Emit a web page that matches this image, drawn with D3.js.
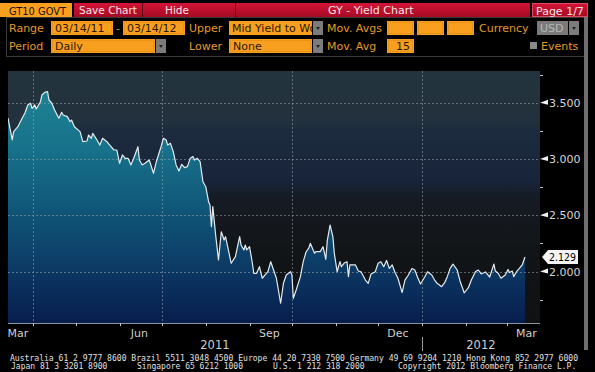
<!DOCTYPE html>
<html>
<head>
<meta charset="utf-8">
<script src="https://cdn.jsdelivr.net/npm/d3@7"></script>
<style>
body { margin: 0; background: #000; }
svg { display: block; font-family: "DejaVu Sans", sans-serif; }
</style>
</head>
<body>
<svg width="595" height="372"></svg>
<script>
// GT10 GOVT - mid yield, daily, 03/14/11 - 03/14/12
var dates = [
"2011-03-14","2011-03-17","2011-03-18","2011-03-21","2011-03-24","2011-03-26","2011-03-28","2011-03-30","2011-03-31",
"2011-04-02","2011-04-03","2011-04-06","2011-04-07","2011-04-09","2011-04-11","2011-04-12","2011-04-14","2011-04-16",
"2011-04-19","2011-04-21","2011-04-22","2011-04-25","2011-04-27","2011-04-28","2011-04-30",
"2011-05-04","2011-05-06","2011-05-09","2011-05-10","2011-05-12","2011-05-13","2011-05-16","2011-05-18","2011-05-20",
"2011-05-23","2011-05-25","2011-05-28","2011-05-30",
"2011-06-01","2011-06-03","2011-06-05","2011-06-07","2011-06-09","2011-06-11","2011-06-14","2011-06-15","2011-06-17",
"2011-06-19","2011-06-22","2011-06-25","2011-06-27","2011-06-30",
"2011-07-02","2011-07-04","2011-07-05","2011-07-07","2011-07-09","2011-07-11","2011-07-13","2011-07-15","2011-07-17",
"2011-07-19","2011-07-21","2011-07-23","2011-07-24","2011-07-26","2011-07-28","2011-07-30",
"2011-08-01","2011-08-03","2011-08-04","2011-08-05","2011-08-06","2011-08-08","2011-08-10","2011-08-12","2011-08-14",
"2011-08-15","2011-08-17","2011-08-19","2011-08-22","2011-08-23","2011-08-25","2011-08-26","2011-08-28","2011-08-29","2011-08-30",
"2011-09-01","2011-09-03","2011-09-04","2011-09-06","2011-09-08","2011-09-10","2011-09-12","2011-09-14","2011-09-16",
"2011-09-18","2011-09-20","2011-09-23","2011-09-25","2011-09-27","2011-09-30",
"2011-10-01","2011-10-02","2011-10-04","2011-10-07","2011-10-09","2011-10-11","2011-10-13","2011-10-14","2011-10-17",
"2011-10-18","2011-10-21","2011-10-23","2011-10-25","2011-10-26","2011-10-28","2011-10-30","2011-10-31",
"2011-11-02","2011-11-04","2011-11-05","2011-11-07","2011-11-09","2011-11-10","2011-11-11","2011-11-15","2011-11-17",
"2011-11-19","2011-11-22","2011-11-24","2011-11-26","2011-11-29",
"2011-12-01","2011-12-03","2011-12-05","2011-12-07","2011-12-09","2011-12-11","2011-12-13","2011-12-15","2011-12-18",
"2011-12-20","2011-12-22","2011-12-25","2011-12-27","2011-12-29","2011-12-31",
"2012-01-03","2012-01-05","2012-01-08","2012-01-10","2012-01-12","2012-01-15","2012-01-17","2012-01-19","2012-01-21",
"2012-01-23","2012-01-26","2012-01-28","2012-01-31",
"2012-02-03","2012-02-05","2012-02-08","2012-02-10","2012-02-12","2012-02-15","2012-02-18","2012-02-21","2012-02-22",
"2012-02-24","2012-02-26","2012-02-29",
"2012-03-02","2012-03-03","2012-03-05","2012-03-06","2012-03-08","2012-03-10","2012-03-12","2012-03-14"
];
var yields = [
3.364,3.169,3.243,3.287,3.362,3.409,3.480,3.495,3.450,
3.480,3.444,3.509,3.568,3.592,3.598,3.524,3.495,3.435,
3.362,3.415,3.391,3.376,3.331,3.346,3.287,
3.243,3.154,3.160,3.213,3.184,3.228,3.169,3.124,3.184,
3.154,3.124,3.080,3.080,
2.962,3.036,3.006,3.006,2.947,3.006,3.109,2.991,2.947,
2.962,2.991,2.873,2.976,3.095,
3.184,3.169,3.124,3.139,3.065,2.947,2.893,2.953,2.923,
2.932,3.006,3.021,2.991,3.006,2.976,2.798,
2.754,2.621,2.592,2.399,2.577,2.325,2.103,2.354,2.281,
2.310,2.192,2.074,2.133,2.192,2.310,2.236,2.192,2.236,2.192,
2.221,2.074,1.985,1.985,2.044,1.941,1.970,1.999,2.088,
2.014,1.941,1.719,1.896,1.970,1.999,
1.970,1.763,1.837,1.955,2.088,2.174,2.210,2.251,2.163,
2.177,2.177,2.221,2.109,2.272,2.414,2.310,2.163,
1.999,2.088,2.044,2.076,2.088,1.955,2.059,2.059,2.005,
1.997,1.925,1.896,1.979,1.999,
2.074,2.088,2.044,2.099,2.028,2.059,1.992,1.943,1.814,
1.925,1.961,2.028,2.014,1.948,1.890,
1.952,1.999,1.970,1.925,1.894,1.866,1.899,1.955,2.029,
2.067,2.014,1.917,1.810,
1.859,1.925,2.001,2.014,1.979,1.997,1.952,2.067,2.005,
1.985,1.941,1.970,
2.019,1.992,2.005,1.955,1.999,2.029,2.059,2.129
];
var yTicks = [2.0, 2.5, 3.0, 3.5];
var yMinorTicks = [1.75, 2.25, 2.75, 3.25, 3.75];
var lastLabel = "2.129";
var years = ["2011", "2012"];
var footer1 = "Australia 61 2 9777 8600 Brazil 5511 3048 4500 Europe 44 20 7330 7500 Germany 49 69 9204 1210 Hong Kong 852 2977 6000";
var footer2 = ["Japan 81 3 3201 8900", "Singapore 65 6212 1000", "U.S. 1 212 318 2000", "Copyright 2012 Bloomberg Finance L.P."];

var parse = d3.timeParse("%Y-%m-%d");
var data = dates.map(function(d, i) { return {date: parse(d), value: yields[i]}; });

var plotLeft = 8, plotRight = 540, plotTop = 71, plotBottom = 323;
var orange = "#f99f1f", labelOrange = "#e39a2a";

var svg = d3.select("svg");
var defs = svg.append("defs");

// ---------- header bar ----------
var redGrad = defs.append("linearGradient").attr("id", "redGrad").attr("x1", 0).attr("y1", 0).attr("x2", 0).attr("y2", 1);
redGrad.append("stop").attr("offset", "0").attr("stop-color", "#d41436");
redGrad.append("stop").attr("offset", "1").attr("stop-color", "#a50a24");

svg.append("rect").attr("x", 0).attr("y", 3).attr("width", 72).attr("height", 14).style("fill", orange);
svg.append("text").attr("x", 9).attr("y", 14.5).attr("textLength", 57).attr("lengthAdjust", "spacingAndGlyphs")
	.style("font-size", "11px").style("fill", "#1a1000").text("GT10 GOVT");

svg.append("rect").attr("x", 74).attr("y", 3).attr("width", 456).attr("height", 14).style("fill", "url(#redGrad)");
[142, 235].forEach(function(sx) {
	svg.append("line").attr("x1", sx + 0.5).attr("x2", sx + 0.5).attr("y1", 3).attr("y2", 17).style("stroke", "#5a0010");
});
svg.append("text").attr("x", 108).attr("y", 14).style("text-anchor", "middle").style("font-size", "10.5px").style("fill", "#f4e4e6").text("Save Chart");
svg.append("text").attr("x", 177).attr("y", 14).style("text-anchor", "middle").style("font-size", "10.5px").style("fill", "#f4e4e6").text("Hide");
svg.append("text").attr("x", 328).attr("y", 14).style("font-size", "11px").style("fill", "#f4e4e6").text("GY - Yield Chart");

svg.append("rect").attr("x", 532.5).attr("y", 3.5).attr("width", 55).attr("height", 13).style("fill", "url(#redGrad)").style("stroke", "#e04a60");
svg.append("text").attr("x", 536).attr("y", 14.5).style("font-size", "11px").style("fill", "#f4e4e6").text("Page 1/7");

// ---------- settings panel ----------
svg.append("rect").attr("x", 6.5).attr("y", 17.5).attr("width", 578).attr("height", 39)
	.style("fill", "none").style("stroke", "#3a3a3a");

function label(x, y, t) {
	svg.append("text").attr("x", x).attr("y", y).style("font-size", "11px").style("fill", labelOrange).text(t);
}
function field(x, y, w, t, anchor) {
	svg.append("rect").attr("x", x).attr("y", y).attr("width", w).attr("height", 14).style("fill", orange);
	svg.append("rect").attr("x", x + 1.5).attr("y", y + 1.5).attr("width", w - 3).attr("height", 11)
		.style("fill", "none").style("stroke", "#d98612").style("stroke-dasharray", "1,1");
	if (t) {
		svg.append("text").attr("x", anchor == "end" ? x + w - 4 : x + 4).attr("y", y + 11)
			.style("text-anchor", anchor || "start").style("font-size", "11px").style("fill", "#2a1800").text(t);
	}
}
function dropdown(x, y) {
	svg.append("rect").attr("x", x).attr("y", y).attr("width", 10).attr("height", 14).style("fill", "#7c7c7c");
	svg.append("path").attr("d", "M" + (x + 3) + "," + (y + 6) + " h4 l-2,3 z").style("fill", "#222");
}

label(9, 32, "Range");
field(51, 21, 62, "03/14/11");
label(116, 32, "-");
field(123, 21, 62, "03/14/12");
label(189, 32, "Upper");
defs.append("clipPath").attr("id", "midClip").append("rect").attr("x", 229).attr("y", 21).attr("width", 83).attr("height", 14);
svg.append("g").attr("clip-path", "url(#midClip)").call(function(g) {
	g.append("rect").attr("x", 229).attr("y", 21).attr("width", 83).attr("height", 14).style("fill", orange);
	g.append("text").attr("x", 232).attr("y", 32).style("font-size", "11px").style("fill", "#2a1800").text("Mid Yield to Worst");
});
dropdown(313, 21);
label(327, 32, "Mov. Avgs");
field(387, 21, 27, "");
field(417, 21, 27, "");
field(447, 21, 27, "");
label(479, 32, "Currency");
svg.append("rect").attr("x", 537).attr("y", 21).attr("width", 31).attr("height", 14).style("fill", "#7a7a7a");
svg.append("text").attr("x", 540).attr("y", 32).style("font-size", "11px").style("fill", "#b8b8b8").text("USD");
dropdown(569, 21);

label(9, 50, "Period");
field(51, 39, 104, "Daily");
dropdown(156, 39);
label(189, 50, "Lower");
field(229, 39, 83, "None");
dropdown(313, 39);
label(327, 50, "Mov. Avg");
field(387, 39, 27, "15", "end");
svg.append("rect").attr("x", 530).attr("y", 42).attr("width", 7).attr("height", 7).style("fill", "#8a8a8a");
label(541, 50, "Events");

// scroll bar on the right
svg.append("rect").attr("x", 584).attr("y", 17).attr("width", 4).attr("height", 333).style("fill", "#6e6e6e");

// ---------- chart ----------
var x = d3.scaleTime().domain([parse("2011-03-14"), parse("2012-03-14")]).range([8, 525]);
var y = d3.scaleLinear().domain([2.0, 3.5]).range([271.6, 102.7]);

var bgGrad = defs.append("linearGradient").attr("id", "bgGrad").attr("gradientUnits", "userSpaceOnUse")
	.attr("x1", 0).attr("y1", plotTop).attr("x2", 0).attr("y2", plotBottom);
[[0, "#24343e"], [0.2, "#22313d"], [0.24, "#1c2b3d"], [0.44, "#18243a"], [0.5, "#161b24"], [0.7, "#121518"], [1, "#0f1113"]]
	.forEach(function(s) { bgGrad.append("stop").attr("offset", s[0]).attr("stop-color", s[1]); });

var fillGrad = defs.append("linearGradient").attr("id", "fillGrad").attr("gradientUnits", "userSpaceOnUse")
	.attr("x1", 0).attr("y1", 85).attr("x2", 0).attr("y2", plotBottom);
[[0, "#1f8494"], [0.27, "#17718a"], [0.48, "#115b7c"], [0.69, "#0d436c"], [0.86, "#0a2e5c"], [1, "#071d4c"]]
	.forEach(function(s) { fillGrad.append("stop").attr("offset", s[0]).attr("stop-color", s[1]); });

defs.append("clipPath").attr("id", "plotClip").append("rect")
	.attr("x", plotLeft).attr("y", plotTop).attr("width", plotRight - plotLeft).attr("height", plotBottom - plotTop);

svg.append("rect").attr("x", plotLeft).attr("y", plotTop).attr("width", plotRight - plotLeft).attr("height", plotBottom - plotTop)
	.style("fill", "url(#bgGrad)");

var plot = svg.append("g").attr("clip-path", "url(#plotClip)");

plot.append("path").datum(data)
	.attr("d", d3.area().x(function(d) { return x(d.date); }).y0(plotBottom).y1(function(d) { return y(d.value); }))
	.style("fill", "url(#fillGrad)");

// dotted grid
var quarters = d3.timeMonth.every(3).range(parse("2011-03-14"), parse("2012-03-25"));
plot.selectAll(".vgrid").data(quarters).enter().append("line")
	.attr("class", "vgrid")
	.attr("x1", function(d) { return Math.round(x(d)) + 0.5; })
	.attr("x2", function(d) { return Math.round(x(d)) + 0.5; })
	.attr("y1", plotTop).attr("y2", plotBottom)
	.style("stroke", "#9aa4ac").style("stroke-opacity", 0.55).style("stroke-dasharray", "2,2");
plot.selectAll(".hgrid").data(yTicks).enter().append("line")
	.attr("class", "hgrid")
	.attr("x1", plotLeft).attr("x2", plotRight)
	.attr("y1", function(d) { return Math.round(y(d)) + 0.5; })
	.attr("y2", function(d) { return Math.round(y(d)) + 0.5; })
	.style("stroke", "#9aa4ac").style("stroke-opacity", 0.55).style("stroke-dasharray", "2,2");

plot.append("path").datum(data)
	.attr("d", d3.line().x(function(d) { return x(d.date); }).y(function(d) { return y(d.value); }))
	.style("fill", "none").style("stroke", "#e4eaee").style("stroke-width", 1.2).style("stroke-linejoin", "round");

// right axis
svg.selectAll(".minorTick").data(yMinorTicks).enter().append("line")
	.attr("x1", plotRight).attr("x2", plotRight + 3)
	.attr("y1", function(d) { return Math.round(y(d)) + 0.5; })
	.attr("y2", function(d) { return Math.round(y(d)) + 0.5; })
	.style("stroke", "#c8c8c8");
svg.selectAll(".flag").data(yTicks).enter().append("path")
	.attr("d", function(d) { var yy = y(d); return "M" + plotRight + "," + yy + " L548," + (yy - 3) + " L548," + (yy + 2) + " Z"; })
	.style("fill", "#f0f0f0");
svg.selectAll(".yLabel").data(yTicks).enter().append("text")
	.attr("x", 549).attr("y", function(d) { return y(d) + 4; })
	.style("font-size", "11px").style("fill", "#d6d6d6")
	.text(d3.format(".3f"));

// last value box
var lastY = y(yields[yields.length - 1]);
svg.append("path")
	.attr("d", "M542," + lastY + " L548," + (lastY - 7) + " H578 V" + (lastY + 7) + " H548 Z")
	.style("fill", "#f4f4f4");
svg.append("text").attr("x", 549).attr("y", lastY + 4).attr("textLength", 27).attr("lengthAdjust", "spacingAndGlyphs")
	.style("font-size", "11px").style("fill", "#000").text(lastLabel);

// bottom axis
svg.append("line").attr("x1", plotLeft).attr("x2", plotRight).attr("y1", plotBottom + 0.5).attr("y2", plotBottom + 0.5)
	.style("stroke", "#8c969e");
var months = d3.timeMonth.range(parse("2011-04-01"), parse("2012-03-25"));
svg.selectAll(".monthTick").data(months).enter().append("line")
	.attr("x1", function(d) { return Math.round(x(d)) + 0.5; })
	.attr("x2", function(d) { return Math.round(x(d)) + 0.5; })
	.attr("y1", plotBottom).attr("y2", plotBottom + 3)
	.style("stroke", "#c8c8c8");

var labelMonths = [parse("2011-03-15"), parse("2011-06-15"), parse("2011-09-15"), parse("2011-12-15"), parse("2012-03-15")];
svg.selectAll(".xLabel").data(labelMonths).enter().append("text")
	.attr("x", function(d) { return Math.max(plotLeft + 10, Math.min(plotRight - 10, x(d))); })
	.attr("y", 337)
	.style("text-anchor", "middle").style("font-size", "11px").style("fill", "#cfcfcf")
	.text(d3.timeFormat("%b"));

var yearEdge = x(parse("2012-01-01"));
svg.append("text").attr("x", (plotLeft + yearEdge) / 2).attr("y", 349).style("text-anchor", "middle")
	.style("font-size", "11.5px").style("fill", "#cfcfcf").text(years[0]);
svg.append("text").attr("x", (yearEdge + plotRight) / 2).attr("y", 349).style("text-anchor", "middle")
	.style("font-size", "11.5px").style("fill", "#cfcfcf").text(years[1]);
svg.append("line").attr("x1", Math.round(yearEdge) + 0.5).attr("x2", Math.round(yearEdge) + 0.5).attr("y1", 337).attr("y2", 351)
	.style("stroke", "#9a9a9a");

// footer
svg.append("text").attr("x", 10).attr("y", 361).attr("textLength", 568).attr("lengthAdjust", "spacingAndGlyphs")
	.style("font-family", "DejaVu Sans Mono, monospace").style("font-size", "8px").style("fill", "#e0e0e0").text(footer1);
var footerX = [11, 137, 273, 398];
footer2.forEach(function(t, i) {
	svg.append("text").attr("x", footerX[i]).attr("y", 369)
		.style("font-family", "DejaVu Sans Mono, monospace").style("font-size", "8px").style("fill", "#e0e0e0").text(t);
});
</script>
</body>
</html>
